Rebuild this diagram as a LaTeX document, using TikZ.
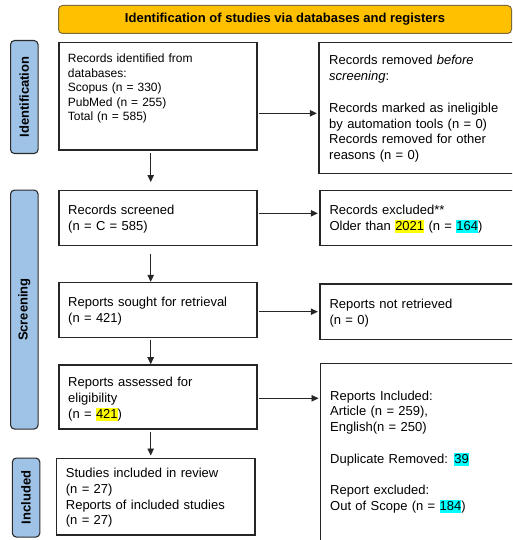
\documentclass[tikz,border=0pt]{standalone}
\usepackage{fontspec}
\setmainfont{Liberation Sans}
\usetikzlibrary{arrows.meta}
\definecolor{bannerfill}{HTML}{FFC000}
\definecolor{bannerline}{HTML}{7F6A3A}
\definecolor{phasefill}{HTML}{9FC3E7}
\definecolor{phaseline}{HTML}{2B2B2B}
\definecolor{boxline}{HTML}{262626}
\definecolor{hlyellow}{HTML}{FFFF00}
\definecolor{hlcyan}{HTML}{00FFFF}
\newcommand{\hlmark}[2]{{\setlength{\fboxsep}{0pt}\colorbox{#1}{\rule[-2.4pt]{0pt}{12.6pt}#2}}}
\begin{document}
\begin{tikzpicture}[x=1pt,y=-1pt,
  frame/.style={draw=boxline,line width=1.35pt,fill=white,inner sep=0pt,anchor=north west},
  phase/.style={draw=phaseline,line width=1.1pt,fill=phasefill,rounded corners=4pt,inner sep=0pt,anchor=north west},
  phasetext/.style={rotate=90,font=\fontsize{13}{15}\selectfont\bfseries},
  body/.style={anchor=base west,inner sep=0pt,align=left,text width=#1,font=\fontsize{13}{15.8}\selectfont},
  body/.default=180pt,
  flow/.style={draw=boxline,line width=0.8pt,-{Triangle[length=7pt,width=6.5pt]}}]
\useasboundingbox (0,0) rectangle (512,540);
\begin{scope}
\clip (0,0) rectangle (512,540);
% banner
\node[draw=bannerline,line width=1pt,fill=bannerfill,rounded corners=4pt,inner sep=0pt,
  anchor=north west,minimum width=453pt,minimum height=28pt,
  font=\fontsize{13}{15}\selectfont\bfseries] (banner) at (58,5)
  {Identification of studies via databases and registers};
% phase labels
\node[phase,minimum width=27.5pt,minimum height=113pt] (pid) at (10,40) {};
\node[phasetext] at (pid.center) {Identification};
\node[phase,minimum width=27.5pt,minimum height=239pt] (pscr) at (10,189.5) {};
\node[phasetext] at (pscr.center) {Screening};
\node[phase,minimum width=27.5pt,minimum height=79pt] (pinc) at (11.8,457.5) {};
\node[phasetext] at (pinc.center) {Included};
% left column
\node[frame,minimum width=198pt,minimum height=107.5pt] (ident) at (58.3,41.8) {};
\node[frame,minimum width=198pt,minimum height=55pt] (screen) at (58.3,189.5) {};
\node[frame,minimum width=198pt,minimum height=55pt] (sought) at (58.3,281.8) {};
\node[frame,minimum width=198pt,minimum height=64pt] (assess) at (58.3,364.2) {};
\node[frame,minimum width=198.5pt,minimum height=76.5pt] (incl) at (55.7,457.7) {};
% right column
\node[frame,minimum width=220pt,minimum height=131pt] (removed) at (318.3,41.8) {};
\node[frame,minimum width=220pt,minimum height=55pt] (excluded) at (319.3,189.5) {};
\node[frame,minimum width=220pt,minimum height=55.5pt] (notret) at (319.3,283.4) {};
\node[frame,minimum width=220pt,minimum height=190pt] (reports) at (320,362.8) {};
% texts
\node[body,font=\fontsize{12}{14.6}\selectfont] at (67.7,62.5)
  {Records identified from\\databases:\\Scopus (n = 330)\\PubMed (n = 255)\\Total (n = 585)};
\node[body] at (329,65)
  {Records removed \textit{before}\\\textit{screening}:\\[15.8pt]Records marked as ineligible\\by automation tools (n = 0)\\Records removed for other\\reasons (n = 0)};
\node[body] at (68,214.3) {Records screened\\(n = C = 585)};
\node[body] at (329.3,214.3) {Records excluded**\\Older than \hlmark{hlyellow}{2021} (n = \hlmark{hlcyan}{164})};
\node[body] at (68,306.8) {Reports sought for retrieval\\(n = 421)};
\node[body] at (329.3,308.3) {Reports not retrieved\\(n = 0)};
\node[body] at (68,386.5) {Reports assessed for\\eligibility\\(n = \hlmark{hlyellow}{421})};
\node[body] at (330,400)
  {Reports Included:\\Article (n = 259),\\English(n = 250)\\[15.8pt]Duplicate Removed: \hlmark{hlcyan}{39}\\[15.8pt]Report excluded:\\Out of Scope (n = \hlmark{hlcyan}{184})};
\node[body] at (65.7,477.5) {Studies included in review\\(n = 27)\\Reports of included studies\\(n = 27)};
% connectors
\coordinate (d1s) at (150.7,153.3);
\coordinate (d1e) at (150.7,182);
\draw[flow] (d1s) -- (d1e);
\coordinate (d2s) at (150.7,254);
\draw[flow] (d2s) -- (sought.north -| d2s);
\coordinate (d3s) at (150.7,339.5);
\draw[flow] (d3s) -- (assess.north -| d3s);
\coordinate (d4s) at (150.7,431.7);
\coordinate (d4e) at (150.7,455.5);
\draw[flow] (d4s) -- (d4e);
\coordinate (r1s) at (259.3,113.3);
\draw[flow] (r1s) -- ([xshift=-1.5pt]removed.west |- r1s);
\coordinate (r2s) at (259.3,213.3);
\draw[flow] (r2s) -- ([xshift=-1.5pt]excluded.west |- r2s);
\coordinate (r3s) at (259.3,311.7);
\draw[flow] (r3s) -- ([xshift=-1.5pt]notret.west |- r3s);
\coordinate (r4s) at (259.3,398.3);
\draw[flow] (r4s) -- ([xshift=-1.5pt]reports.west |- r4s);
\end{scope}
\end{tikzpicture}
\end{document}
